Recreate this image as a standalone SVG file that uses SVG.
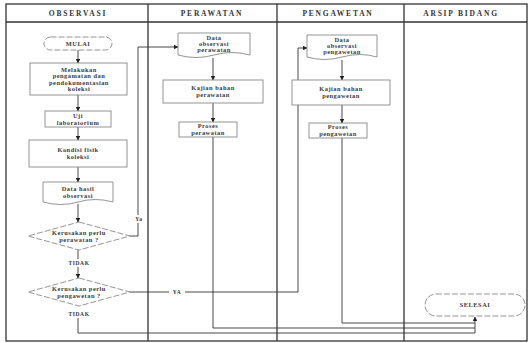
<svg xmlns="http://www.w3.org/2000/svg" width="531" height="343" viewBox="0 0 531 343">
<defs>
<marker id="ah" viewBox="0 0 10 10" refX="9" refY="5" markerWidth="5" markerHeight="5" orient="auto">
<path d="M0,0 L10,5 L0,10 z" fill="#222"/>
</marker>
<style>
.lane{fill:none;stroke:#333;stroke-width:1.3}
.shape{fill:#fff;stroke:#888;stroke-width:0.9}
.dash{fill:#fff;stroke:#888;stroke-width:0.9;stroke-dasharray:6 2}
.con{fill:none;stroke:#333;stroke-width:0.9}
.t{font-family:"Liberation Serif",serif;font-size:6.4px;font-weight:bold;fill:#3a3a3a;text-anchor:middle;letter-spacing:0.5px}
.h{font-family:"Liberation Serif",serif;font-size:7.5px;font-weight:bold;fill:#333;text-anchor:middle;letter-spacing:1.8px}
.lbl{font-family:"Liberation Serif",serif;font-size:5.5px;font-weight:bold;fill:#333;text-anchor:middle;letter-spacing:0.6px}
</style>
</defs>
<rect width="531" height="343" fill="#fff"/>
<g id="lanes">
<rect class="lane" x="6" y="4" width="521" height="337"/>
<line class="lane" x1="6" y1="22" x2="527" y2="22"/>
<line class="lane" x1="148" y1="4" x2="148" y2="341"/>
<line class="lane" x1="277" y1="4" x2="277" y2="341"/>
<line class="lane" x1="404" y1="4" x2="404" y2="341"/>
<text class="h" x="78" y="16">OBSERVASI</text>
<text class="h" x="212" y="16">PERAWATAN</text>
<text class="h" x="338" y="16">PENGAWETAN</text>
<text class="h" x="461" y="16">ARSIP BIDANG</text>
</g>
<g id="connectors">
<line class="con" x1="78" y1="50" x2="78" y2="63" marker-end="url(#ah)"/>
<line class="con" x1="78" y1="95" x2="78" y2="111" marker-end="url(#ah)"/>
<line class="con" x1="78" y1="127" x2="78" y2="140" marker-end="url(#ah)"/>
<line class="con" x1="78" y1="167" x2="78" y2="182" marker-end="url(#ah)"/>
<line class="con" x1="78" y1="204" x2="78" y2="222" marker-end="url(#ah)"/>
<line class="con" x1="78" y1="250" x2="78" y2="259"/>
<line class="con" x1="78" y1="267" x2="78" y2="278" marker-end="url(#ah)"/>
<polyline class="con" points="130,236 138,236 138,47 178,47" marker-end="url(#ah)"/>
<polyline class="con" points="130,292 298,292 298,48 307,48" marker-end="url(#ah)"/>
<line class="con" x1="213" y1="58" x2="213" y2="80" marker-end="url(#ah)"/>
<line class="con" x1="213" y1="103" x2="213" y2="122" marker-end="url(#ah)"/>
<line class="con" x1="342" y1="60" x2="342" y2="80" marker-end="url(#ah)"/>
<line class="con" x1="342" y1="105" x2="342" y2="123" marker-end="url(#ah)"/>
<polyline class="con" points="78,318 78,333 475,333"/>
<polyline class="con" points="213,137 213,328 475,328"/>
<polyline class="con" points="342,138 342,323 475,323"/>
<line class="con" x1="475" y1="333" x2="475" y2="317" marker-end="url(#ah)"/>
<rect x="132" y="215" width="13" height="8" fill="#fff"/>
<text class="lbl" x="139" y="221">Ya</text>
<rect x="169" y="288" width="16" height="8" fill="#fff"/>
<text class="lbl" x="177" y="294">YA</text>
<text class="lbl" x="79" y="265">TIDAK</text>
<rect x="68" y="310" width="21" height="8" fill="#fff"/>
<text class="lbl" x="79" y="316">TIDAK</text>
</g>
<g id="mulai">
<rect class="dash" x="44" y="37" width="68" height="13" rx="6.5"/>
<text class="t" x="78" y="45.8">MULAI</text>
</g>
<g id="pengamatan">
<rect class="shape" x="30" y="63" width="97" height="32"/>
<text class="t" x="79" y="71.5">Melakukan</text>
<text class="t" x="79" y="78">pengamatan dan</text>
<text class="t" x="79" y="84.5">pendokumentasian</text>
<text class="t" x="79" y="91">koleksi</text>
</g>
<g id="uji">
<rect class="shape" x="45" y="111" width="66" height="16"/>
<text class="t" x="78" y="117.8">Uji</text>
<text class="t" x="78" y="124.5">laboratorium</text>
</g>
<g id="kondisi">
<rect class="shape" x="29" y="140" width="98" height="27"/>
<text class="t" x="78" y="152">Kondisi fisik</text>
<text class="t" x="78" y="159">koleksi</text>
</g>
<g id="data-hasil">
<path class="shape" d="M43,182 H113 V202 Q95,197 78,202 T43,202 Z"/>
<text class="t" x="78" y="191">Data hasil</text>
<text class="t" x="78" y="197.5">observasi</text>
</g>
<g id="diamond-perawatan">
<polygon class="dash" points="79,222 130,236 79,250 28,236"/>
<text class="t" x="79" y="234.5">Kerusakan perlu</text>
<text class="t" x="79" y="241.5">perawatan ?</text>
</g>
<g id="diamond-pengawetan">
<polygon class="dash" points="79,278 130,292 79,306 28,292"/>
<text class="t" x="79" y="290.5">Kerusakan perlu</text>
<text class="t" x="79" y="297.5">pengawetan ?</text>
</g>
<g id="data-perawatan">
<path class="shape" d="M178,33 H250 V55 Q232,50 214,55 T178,55 Z"/>
<text class="t" x="214" y="39.5">Data</text>
<text class="t" x="214" y="45.8">observasi</text>
<text class="t" x="214" y="52">perawatan</text>
</g>
<g id="kajian-perawatan">
<rect class="shape" x="163" y="80" width="100" height="23"/>
<text class="t" x="213" y="90">Kajian bahan</text>
<text class="t" x="213" y="97">perawatan</text>
</g>
<g id="proses-perawatan">
<rect class="shape" x="179" y="122" width="58" height="15"/>
<text class="t" x="208" y="128.3">Proses</text>
<text class="t" x="208" y="134.6">perawatan</text>
</g>
<g id="data-pengawetan">
<path class="shape" d="M307,35 H377 V57 Q360,52 342,57 T307,57 Z"/>
<text class="t" x="342" y="41.5">Data</text>
<text class="t" x="342" y="47.8">observasi</text>
<text class="t" x="342" y="54">pengawetan</text>
</g>
<g id="kajian-pengawetan">
<rect class="shape" x="292" y="80" width="98" height="25"/>
<text class="t" x="341" y="91">Kajian bahan</text>
<text class="t" x="341" y="98">pengawetan</text>
</g>
<g id="proses-pengawetan">
<rect class="shape" x="309" y="123" width="58" height="15"/>
<text class="t" x="338" y="129.3">Proses</text>
<text class="t" x="338" y="135.6">pengawetan</text>
</g>
<g id="selesai">
<rect class="dash" x="425" y="294" width="100" height="22" rx="11"/>
<text class="t" x="475" y="307">SELESAI</text>
</g>
</svg>
